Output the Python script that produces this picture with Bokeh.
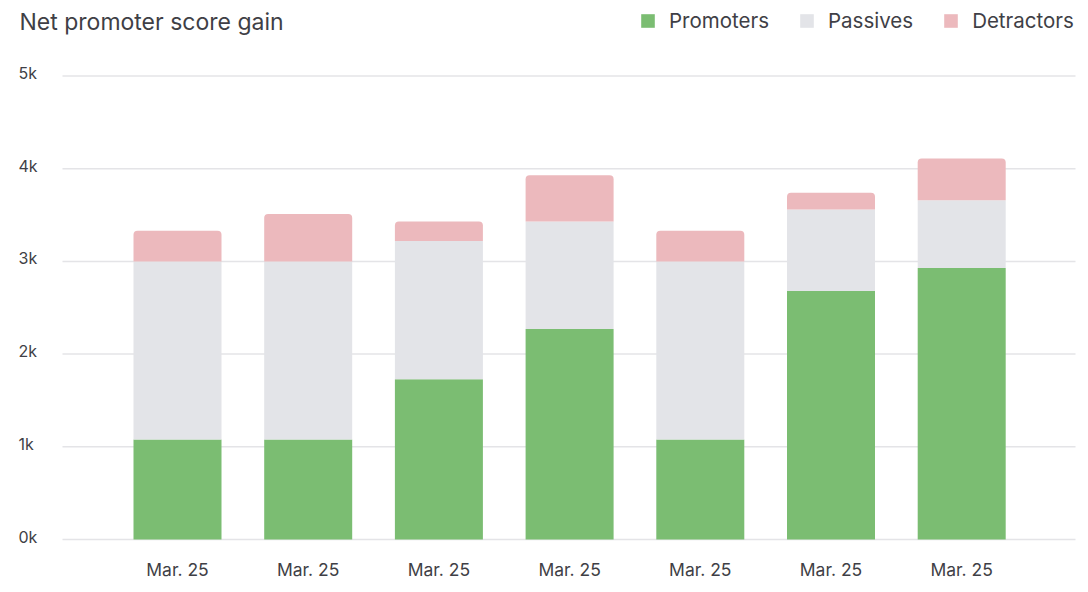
from bokeh.plotting import figure
from bokeh.models import Range1d, FixedTicker, Legend, LegendItem, ColumnDataSource, Label
from bokeh.core.properties import value
from bokeh.embed import file_html
from bokeh.resources import INLINE

# Monthly survey responses, split by NPS group
months = ["Mar. 25", "Mar. 25", "Mar. 25", "Mar. 25", "Mar. 25", "Mar. 25", "Mar. 25"]
promoters = [1080, 1080, 1730, 2270, 1080, 2680, 2930]
passives = [1920, 1920, 1490, 1160, 1920, 880, 730]
detractors = [330, 510, 210, 500, 330, 180, 450]

y_ticks = [0, 1000, 2000, 3000, 4000, 5000]
y_tick_labels = ["0k", "1k", "2k", "3k", "4k", "5k"]

FONT = "Inter"
TEXT = "#3f3f46"
GREEN = "#7bbd72"
GREY = "#e3e4e8"
PINK = "#ecb9bd"
GRID = "#e4e4e7"

W, H = 1088, 592
FRAME_H = 545            # plot frame height (x-axis panel below it)
PX_X = 130.7             # pixels per category step
PX_Y = 463.5 / 5000      # pixels per unit of value
x_start = -177 / PX_X
y_start = -(FRAME_H - 539) / PX_Y

def xpx(px):
    """data x for a horizontal pixel offset inside the frame"""
    return x_start + px / PX_X

idx = list(range(len(months)))
pas_top = [a + b for a, b in zip(promoters, passives)]
det_top = [a + b for a, b in zip(pas_top, detractors)]

src = ColumnDataSource(dict(
    x=idx,
    pro_top=promoters,
    pas_bottom=promoters,
    pas_top=pas_top,
    det_top=det_top,
))

p = figure(
    width=W, height=H,
    x_range=Range1d(x_start, xpx(W)),
    y_range=Range1d(y_start, y_start + FRAME_H / PX_Y),
    output_backend="svg", toolbar_location=None,
    min_border_left=0, min_border_right=0,
    min_border_top=0, min_border_bottom=H - FRAME_H,
)
p.outline_line_color = None
p.background_fill_color = "white"
p.border_fill_color = "white"
p.yaxis.visible = False
p.xgrid.grid_line_color = None
p.ygrid.grid_line_color = None

# horizontal guide lines and value labels
n = len(y_ticks)
p.segment(x0=[xpx(62)] * n, x1=[xpx(1075)] * n, y0=y_ticks, y1=y_ticks,
          line_color=GRID, line_width=1.5)
p.text(x=[xpx(18)] * n, y=y_ticks, text=y_tick_labels,
       text_font=value(FONT), text_font_size="16px", text_color=TEXT,
       text_align="left", text_baseline="alphabetic", y_offset=-3)

BW = 88 / PX_X
r_pro = p.vbar(x="x", bottom=0, top="pro_top", width=BW, source=src,
               fill_color=GREEN, line_color=None)
r_pas = p.vbar(x="x", bottom="pas_bottom", top="pas_top", width=BW, source=src,
               fill_color=GREY, line_color=None)
r_det = p.vbar(x="x", bottom="pas_top", top="det_top", width=BW, source=src,
               fill_color=PINK, line_color=None, border_radius=(4, 4, 0, 0))

# category axis
p.xaxis.ticker = FixedTicker(ticks=idx)
p.xaxis.major_label_overrides = {i: m for i, m in zip(idx, months)}
p.xaxis.axis_line_color = None
p.xaxis.major_tick_line_color = None
p.xaxis.minor_tick_line_color = None
p.xaxis.major_tick_out = 0
p.xaxis.major_tick_in = 0
p.xaxis.major_label_text_font = FONT
p.xaxis.major_label_text_font_size = "17.5px"
p.xaxis.major_label_text_color = TEXT
p.xaxis.major_label_standoff = 13

# chart title
p.add_layout(Label(
    x=19, y=FRAME_H - 21, x_units="screen", y_units="screen",
    text="Net promoter score gain", text_font=FONT, text_font_size="23px",
    text_color=TEXT, text_baseline="alphabetic", text_align="left",
))

legend = Legend(
    items=[
        LegendItem(label="Promoters", renderers=[r_pro]),
        LegendItem(label="Passives", renderers=[r_pas]),
        LegendItem(label="Detractors", renderers=[r_det]),
    ],
    orientation="horizontal",
    location=(639, FRAME_H - 33),
    glyph_width=17, glyph_height=17, label_height=17,
    label_standoff=13, spacing=29,
    padding=0, margin=0,
    border_line_color=None, background_fill_alpha=0,
    label_text_font=FONT, label_text_font_size="20.5px",
    label_text_color=TEXT,
)
p.add_layout(legend, "center")

open("out.html", "w").write(file_html(p, INLINE))
